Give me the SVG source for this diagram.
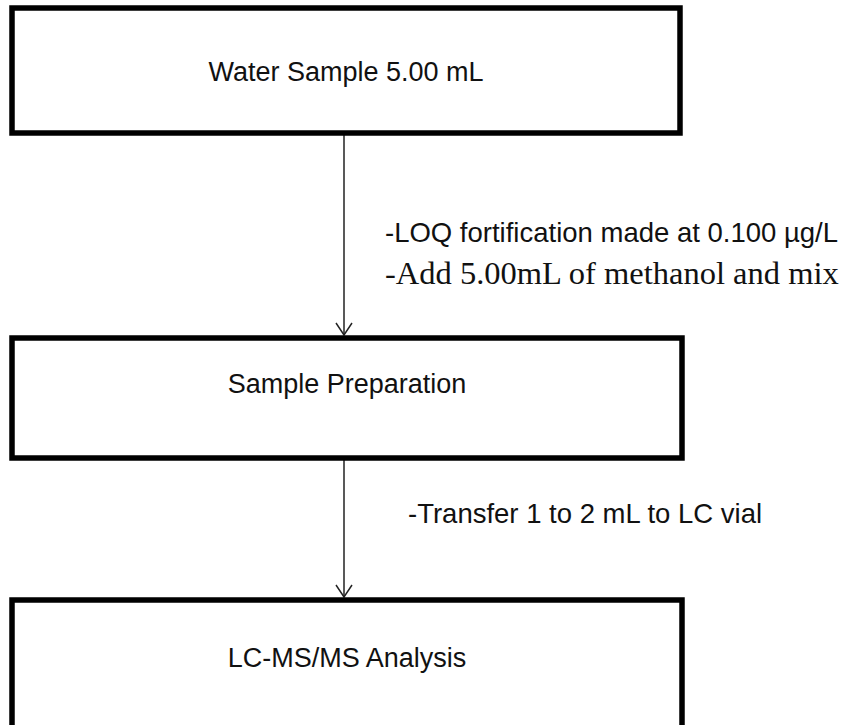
<svg xmlns="http://www.w3.org/2000/svg" width="854" height="725" viewBox="0 0 854 725">
  <style>
    .box { fill: #ffffff; stroke: #000000; stroke-width: 5.5; }
    .lbl { font-family: "Liberation Sans", Arial, sans-serif; font-size: 27px; fill: #111111; }
    .note { font-family: "Liberation Sans", Arial, sans-serif; font-size: 27.5px; fill: #111111; }
    .serif { font-family: "Liberation Serif", "Times New Roman", serif; font-size: 32.5px; fill: #111111; }
    .conn { stroke: #222222; stroke-width: 1.5; fill: none; marker-end: url(#vhead); }
  </style>
  <defs>
    <!-- open V arrowhead, drawn pointing along +x -->
    <marker id="vhead" markerWidth="14" markerHeight="18" refX="13" refY="9" orient="auto" markerUnits="userSpaceOnUse" viewBox="0 0 14 18">
      <path d="M1,1 L13,9 L1,17" fill="none" stroke="#222222" stroke-width="1.5"/>
    </marker>
  </defs>
  <rect width="854" height="725" fill="#ffffff"/>

  <g id="connectors">
    <line class="conn" x1="344" y1="134" x2="344" y2="335"/>
    <line class="conn" x1="344" y1="460" x2="344" y2="597"/>
  </g>

  <g id="node-water-sample">
    <rect class="box" x="12" y="8" width="668" height="125"/>
    <text class="lbl" x="346" y="81" text-anchor="middle">Water Sample 5.00 mL</text>
  </g>

  <g id="node-sample-preparation">
    <rect class="box" x="12" y="338" width="670" height="120"/>
    <text class="lbl" x="347" y="393" text-anchor="middle">Sample Preparation</text>
  </g>

  <g id="node-lcmsms">
    <rect class="box" x="12" y="600" width="670" height="130"/>
    <text class="lbl" x="347" y="667" text-anchor="middle">LC-MS/MS Analysis</text>
  </g>

  <g id="notes">
    <text class="note" x="385" y="242">-LOQ fortification made at 0.100 µg/L</text>
    <text class="serif" x="385" y="284">-Add 5.00mL of methanol and mix</text>
    <text class="note" x="408" y="523">-Transfer 1 to 2 mL to LC vial</text>
  </g>
</svg>
